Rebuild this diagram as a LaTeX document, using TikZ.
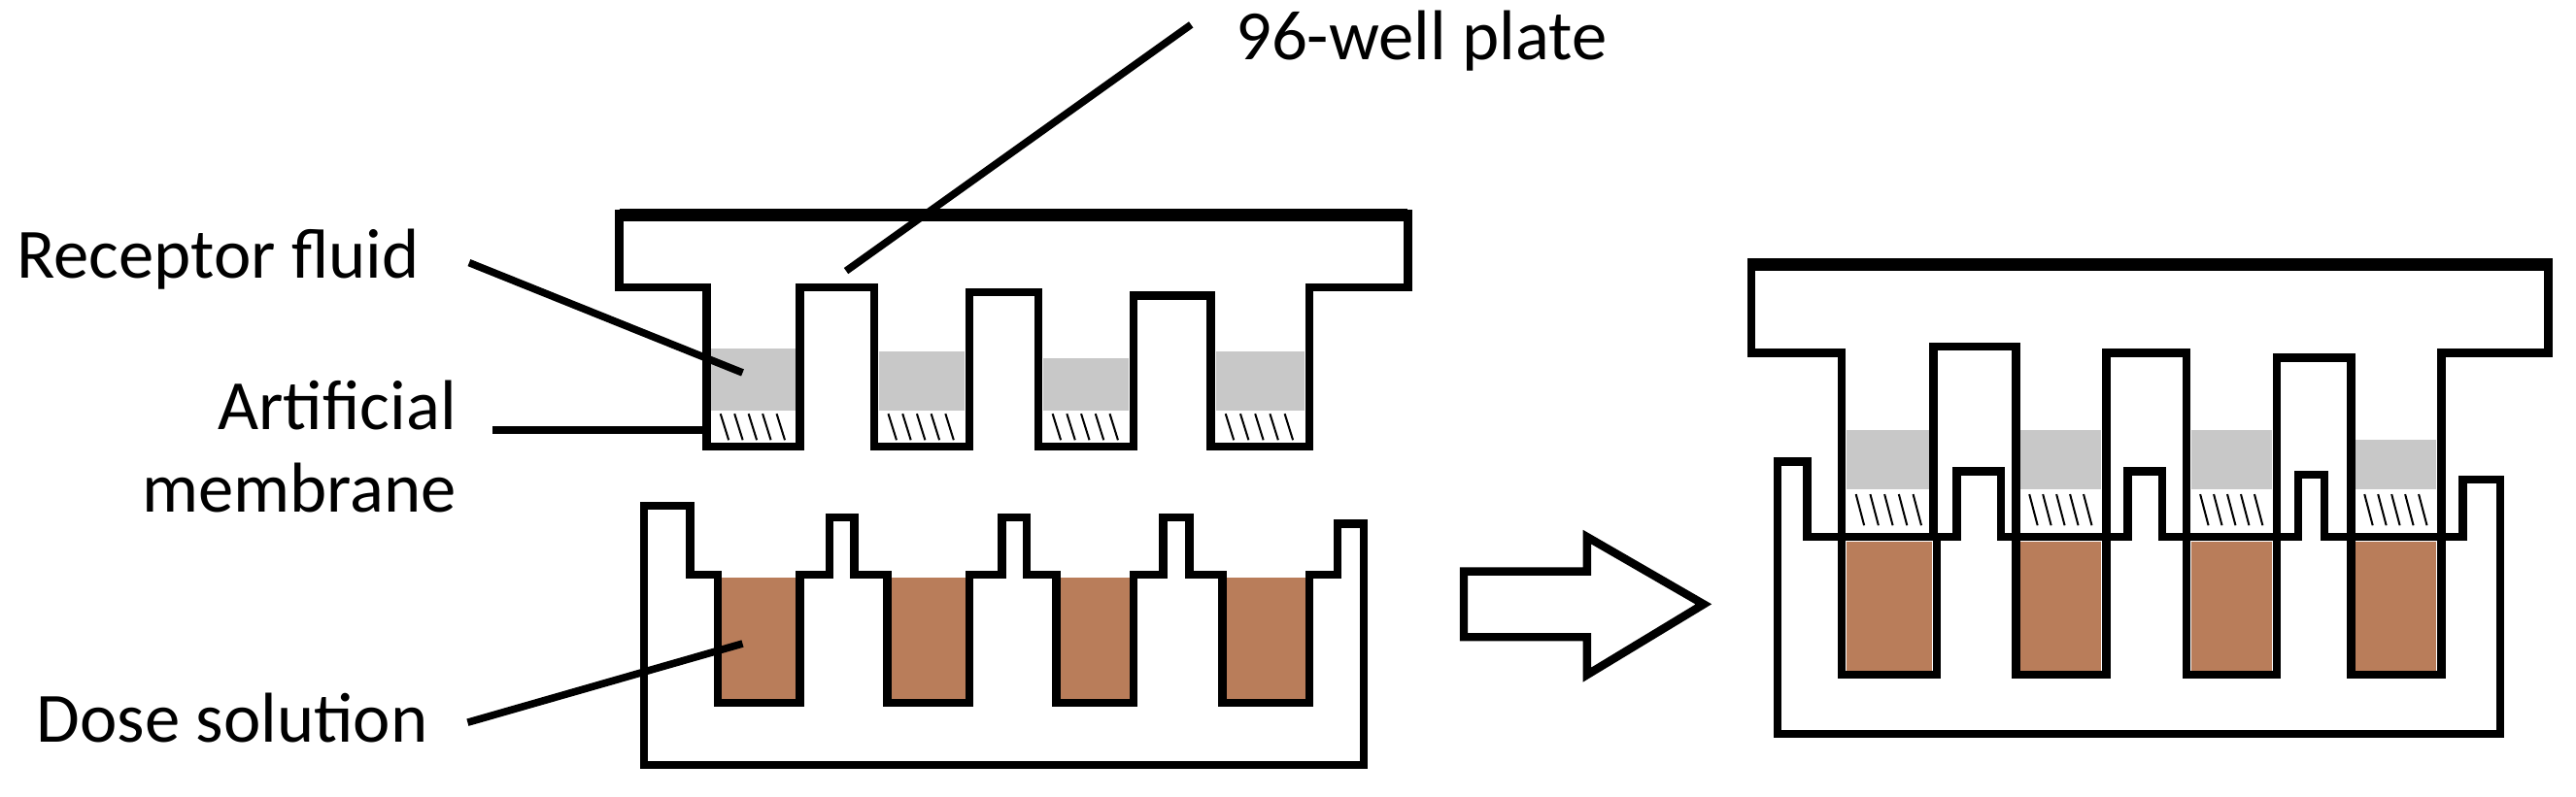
\documentclass[tikz,border=0pt]{standalone}
\usepackage{fontspec}
\setmainfont{Carlito}
\definecolor{brown1}{HTML}{B97D5A}
\definecolor{gray1}{HTML}{C8C8C8}
\begin{document}
\begin{tikzpicture}[x=1pt,y=-1pt,
  outl/.style={line width=5pt,line join=miter},
  lbl/.style={font=\fontsize{43}{50}\selectfont,inner sep=0pt},
  lead/.style={line width=4.5pt},
  hatch/.style={line width=1.2pt}]
\useasboundingbox (0,0) rectangle (1568,485);
% ---------- left top plate ----------
\foreach \a/\b/\g in {430/487/212,532/590/214,632/690/218,737/797/214}{
  \fill[gray1] (\a+3,\g) rectangle (\b-3,250);
  \foreach \k in {0.15,0.3,0.45,0.6,0.75}{
    \draw[hatch] ({\a+(\b-\a)*\k},252) -- ({\a+(\b-\a)*\k+5},268);}
  \draw[hatch] (\a+3,270) -- (\b-3,270);
}
\draw[outl] (377,130) -- (857,130) -- (857,175) -- (797,175) -- (797,272) -- (737,272) -- (737,180) -- (690,180) -- (690,272) -- (632,272) -- (632,178) -- (590,178) -- (590,272) -- (532,272) -- (532,175) -- (487,175) -- (487,272) -- (430,272) -- (430,175) -- (377,175) -- cycle;
\draw[line width=8pt] (377,131) -- (857,131);
% ---------- left bottom plate ----------
\foreach \a/\b in {437/487,540/590,643/690,744/797}{
  \fill[brown1] (\a,352) rectangle (\b,426);}
\draw[outl] (392,308) -- (420,308) -- (420,350) -- (437,350) -- (437,428) -- (487,428) -- (487,350) -- (505,350) -- (505,315) -- (520,315) -- (520,350) -- (540,350) -- (540,428) -- (590,428) -- (590,350) -- (610,350) -- (610,315) -- (625,315) -- (625,350) -- (643,350) -- (643,428) -- (690,428) -- (690,350) -- (708,350) -- (708,315) -- (724,315) -- (724,350) -- (744,350) -- (744,428) -- (797,428) -- (797,350) -- (814,350) -- (814,319) -- (830,319) -- (830,466) -- (392,466) -- cycle;
% ---------- arrow ----------
\draw[outl] (891,348) -- (966,348) -- (966,327) -- (1037,368) -- (966,411) -- (966,388) -- (891,388) -- cycle;
% ---------- right assembly ----------
\foreach \a/\b/\g in {1121/1179/262,1227/1282/262,1331/1386/262,1431/1486/268}{
  \fill[gray1] (\a+3,\g) rectangle (\b-3,298);
  \foreach \k in {0.15,0.3,0.45,0.6,0.75}{
    \draw[hatch] ({\a+(\b-\a)*\k},301) -- ({\a+(\b-\a)*\k+5},320);}
  \fill[brown1] (\a+3,330) rectangle (\b-3,409);
}
\draw[outl] (1082,281) -- (1100,281) -- (1100,327) -- (1121,327) -- (1121,411) -- (1179,411) -- (1179,327) -- (1191,327) -- (1191,287) -- (1218,287) -- (1218,327) -- (1227,327) -- (1227,411) -- (1282,411) -- (1282,327) -- (1295,327) -- (1295,287) -- (1316,287) -- (1316,327) -- (1331,327) -- (1331,411) -- (1386,411) -- (1386,327) -- (1399,327) -- (1399,289) -- (1415,289) -- (1415,327) -- (1431,327) -- (1431,411) -- (1486,411) -- (1486,327) -- (1499,327) -- (1499,292) -- (1522,292) -- (1522,447) -- (1082,447) -- cycle;
\draw[outl] (1066,160) -- (1551,160) -- (1551,215) -- (1486,215) -- (1486,327) -- (1431,327) -- (1431,218) -- (1386,218) -- (1386,327) -- (1331,327) -- (1331,215) -- (1282,215) -- (1282,327) -- (1227,327) -- (1227,211) -- (1177,211) -- (1177,327) -- (1121,327) -- (1121,215) -- (1066,215) -- cycle;
\draw[line width=8pt] (1066,161) -- (1551,161);
% ---------- labels ----------
\node[lbl,anchor=west] (plate) at (752,25) {96-well plate};
\node[lbl,anchor=west] (rec) at (10,158) {Receptor fluid};
\node[lbl,anchor=east,align=right] (mem) at (278,272) {Artificial\\membrane};
\node[lbl,anchor=west] (dose) at (22,437) {Dose solution};
\coordinate (pPlate) at (515,165);
\coordinate (pRec) at (452,227);
\coordinate (pMem) at (432,262);
\coordinate (pDose) at (452,392);
\draw[lead] (725,15) -- (pPlate);
\draw[lead] (rec.east)++(30,2) -- (pRec);
\draw[lead] (300,262) -- (pMem);
\draw[lead] (dose.east)++(24,3) -- (pDose);
\end{tikzpicture}
\end{document}
